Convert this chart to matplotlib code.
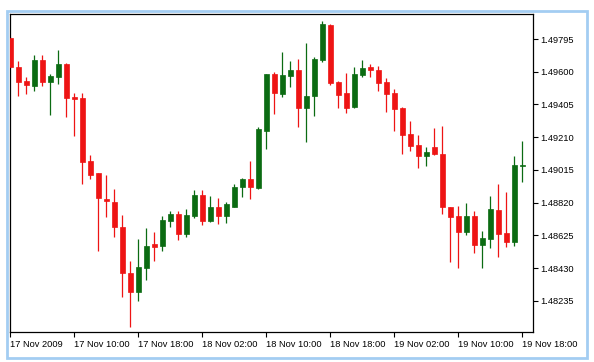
import matplotlib
matplotlib.use("Agg")
import matplotlib.pyplot as plt
import numpy as np
from matplotlib.patches import Rectangle

# hourly EURUSD-style candles
opens = [1.49801, 1.49630, 1.49546, 1.49517, 1.49670, 1.49541, 1.49570, 1.49646, 1.49449, 1.49443,
         1.49070, 1.48995, 1.48841, 1.48822, 1.48673, 1.48399, 1.48285, 1.48428, 1.48573, 1.48560,
         1.48712, 1.48752, 1.48633, 1.48738, 1.48865, 1.48709, 1.48796, 1.48742, 1.48796, 1.48911,
         1.48961, 1.48907, 1.49248, 1.49586, 1.49467, 1.49576, 1.49610, 1.49382, 1.49453, 1.49672,
         1.49880, 1.49537, 1.49473, 1.49388, 1.49582, 1.49630, 1.49610, 1.49537, 1.49473, 1.49382,
         1.49229, 1.49163, 1.49099, 1.49150, 1.49110, 1.48796, 1.48742, 1.48643, 1.48742, 1.48569,
         1.48603, 1.48776, 1.48639, 1.48583, 1.49040]
highs = [1.49805, 1.49666, 1.49567, 1.49700, 1.49700, 1.49586, 1.49731, 1.49650, 1.49471, 1.49471,
         1.49104, 1.48995, 1.48986, 1.48901, 1.48746, 1.48474, 1.48601, 1.48669, 1.48643, 1.48742,
         1.48768, 1.48768, 1.48782, 1.48895, 1.48895, 1.48861, 1.48846, 1.48824, 1.48931, 1.48967,
         1.49070, 1.49269, 1.49586, 1.49597, 1.49719, 1.49666, 1.49676, 1.49769, 1.49690, 1.49904,
         1.49884, 1.49546, 1.49591, 1.49626, 1.49672, 1.49646, 1.49636, 1.49561, 1.49497, 1.49388,
         1.49308, 1.49223, 1.49153, 1.49265, 1.49275, 1.48796, 1.48802, 1.48816, 1.48772, 1.48649,
         1.48861, 1.48931, 1.48881, 1.49099, 1.49189]
lows = [1.49620, 1.49457, 1.49467, 1.49487, 1.49517, 1.49344, 1.49527, 1.49332, 1.49219, 1.48931,
        1.48961, 1.48533, 1.48736, 1.48617, 1.48256, 1.48077, 1.48235, 1.48359, 1.48474, 1.48533,
        1.48673, 1.48597, 1.48617, 1.48728, 1.48688, 1.48703, 1.48692, 1.48697, 1.48792, 1.48855,
        1.48841, 1.48901, 1.49139, 1.49348, 1.49451, 1.49511, 1.49269, 1.49183, 1.49338, 1.49656,
        1.49523, 1.49382, 1.49354, 1.49384, 1.49567, 1.49567, 1.49487, 1.49362, 1.49248, 1.49110,
        1.49129, 1.49026, 1.49040, 1.49105, 1.48752, 1.48464, 1.48430, 1.48629, 1.48518, 1.48430,
        1.48549, 1.48498, 1.48557, 1.48563, 1.48941]
closes = [1.49626, 1.49541, 1.49523, 1.49670, 1.49541, 1.49574, 1.49646, 1.49443, 1.49437, 1.49064,
          1.48986, 1.48846, 1.48828, 1.48673, 1.48399, 1.48285, 1.48434, 1.48561, 1.48554, 1.48716,
          1.48752, 1.48633, 1.48746, 1.48865, 1.48712, 1.48796, 1.48742, 1.48812, 1.48911, 1.48961,
          1.48911, 1.49259, 1.49586, 1.49471, 1.49580, 1.49610, 1.49382, 1.49453, 1.49676, 1.49884,
          1.49531, 1.49463, 1.49384, 1.49586, 1.49622, 1.49610, 1.49533, 1.49467, 1.49378, 1.49225,
          1.49159, 1.49099, 1.49123, 1.49110, 1.48796, 1.48736, 1.48643, 1.48742, 1.48569, 1.48609,
          1.48782, 1.48633, 1.48583, 1.49044, 1.49046]

x_labels = ['17 Nov 2009', '17 Nov 10:00', '17 Nov 18:00', '18 Nov 02:00', '18 Nov 10:00',
            '18 Nov 18:00', '19 Nov 02:00', '19 Nov 10:00', '19 Nov 18:00']
y_ticks = [1.48235, 1.48430, 1.48625, 1.48820, 1.49015, 1.49210, 1.49405, 1.49600, 1.49795]

up_color = '#0b6b12'
down_color = '#ee1414'

plt.rcParams['font.family'] = ['Liberation Sans', 'DejaVu Sans']

fig = plt.figure(figsize=(5.94, 3.62), dpi=100)
ax = fig.add_axes([10 / 594, 1 - 332 / 362, 523.3 / 594, 318 / 362])

o = np.array(opens)
c = np.array(closes)
h = np.array(highs)
l = np.array(lows)
idx = np.arange(len(o))
colors = [up_color if cc >= oo else down_color for oo, cc in zip(o, c)]

ax.vlines(idx, l, h, colors=colors, linewidth=0.9, zorder=2)
body_bottom = np.minimum(o, c)
body_height = np.maximum(np.abs(c - o), 0.00002)
ax.bar(idx, body_height, bottom=body_bottom, width=0.6, color=colors,
       edgecolor=colors, linewidth=0.5, zorder=3)

ax.set_xlim(-0.06, 65.35)
ax.set_ylim(1.48049, 1.49944)

ax.yaxis.tick_right()
ax.set_yticks(y_ticks)
ax.set_yticklabels(['%.5f' % v for v in y_ticks], fontsize=6.7)
ax.tick_params(axis='y', direction='out', length=3.5, width=0.8, pad=1.5, colors='black')

ax.set_xticks(idx[::8])
ax.set_xticklabels(x_labels, fontsize=6.7, ha='left')
ax.tick_params(axis='x', direction='out', length=3.5, width=0.8, pad=2.5, colors='black')
for lab in ax.get_xticklabels():
    lab.set_x(lab.get_position()[0])
    lab.set_horizontalalignment('left')

for s in ax.spines.values():
    s.set_linewidth(0.9)
    s.set_color('black')

# light blue outer frame
fig.patches.append(Rectangle((7 / 594, 1 - 358 / 362), 580 / 594, 347 / 362,
                             transform=fig.transFigure, fill=False,
                             edgecolor='#a3cdf2', linewidth=2.0))

fig.savefig('out.png', dpi=100)
